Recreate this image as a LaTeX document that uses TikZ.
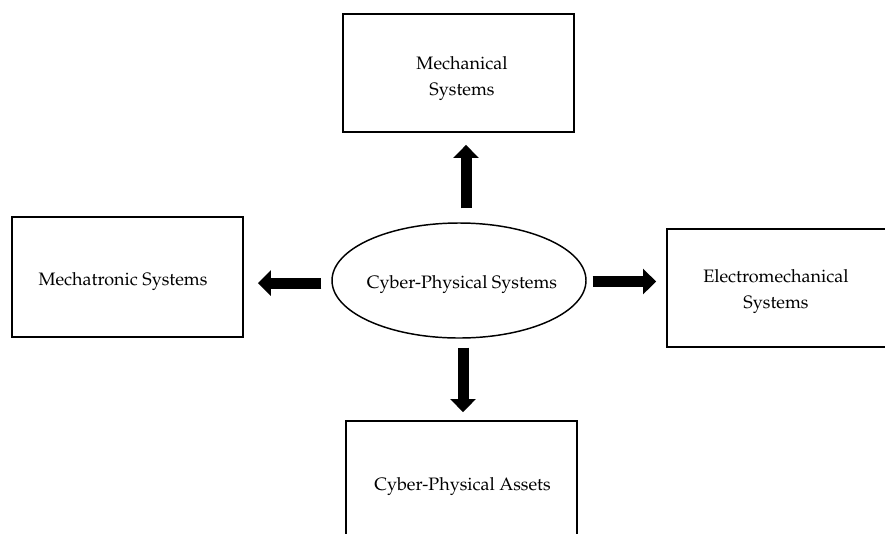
\documentclass[tikz,border=0pt]{standalone}
\usepackage[T1]{fontenc}
\usepackage{mathpazo}
\usetikzlibrary{shapes.geometric,arrows.meta}

\tikzset{
  sysbox/.style={draw, line width=1.4pt, rectangle, inner sep=0pt},
  core/.style={draw, line width=1.1pt, ellipse, inner sep=0pt,
    minimum width=190.5pt, minimum height=86.25pt},
  caption/.style={align=center, inner sep=0pt,
    font=\fontsize{13.5}{19.5}\selectfont},
  bigarrow/.style={line width=8.25pt,
    -{Triangle[width=18.75pt,length=9.75pt]}}
}

\begin{document}
\begin{tikzpicture}[x=0.75pt, y=-0.75pt]
  \useasboundingbox (0,0) rectangle (885,533);
  \clip (0,0) rectangle (885,533);

  % central concept
  \node[core] (cps) at (459,280.5) {};
  \node[caption] (cps-t) at (462,285) {Cyber-Physical Systems};

  % surrounding system classes
  \node[sysbox, minimum width=173.25pt, minimum height=88.5pt]
    (mech) at (458.5,73) {};
  \node[caption] (mech-t) at (462,79) {Mechanical\\Systems};

  \node[sysbox, minimum width=173.25pt, minimum height=90pt]
    (mtron) at (127.5,277) {};
  \node[caption] (mtron-t) at (123,282) {Mechatronic Systems};

  \node[sysbox, minimum width=165pt, minimum height=88.5pt]
    (emech) at (777,288) {};
  \node[caption] (emech-t) at (776,292) {Electromechanical\\Systems};

  \node[sysbox, minimum width=173.25pt, minimum height=94.5pt]
    (assets) at (461.5,484) {};
  \node[caption] (assets-t) at (462.5,487) {Cyber-Physical Assets};

  % block arrows from the centre outwards
  \draw[bigarrow, shorten <=10.5pt, shorten >=9pt]
    ([xshift=5.25pt]cps.north) -- ([xshift=5.25pt]cps.north |- mech.south);
  \draw[bigarrow, shorten <=7.5pt, shorten >=10.5pt]
    ([yshift=-1.9pt]cps.west) -- ([yshift=-1.9pt]cps.west -| mtron.east);
  \draw[bigarrow, shorten <=4.5pt, shorten >=7.5pt]
    ([yshift=-0.75pt]cps.east) -- ([yshift=-0.75pt]cps.east -| emech.west);
  \draw[bigarrow, shorten <=6.75pt, shorten >=6pt]
    ([xshift=3pt]cps.south) -- ([xshift=3pt]cps.south |- assets.north);
\end{tikzpicture}
\end{document}
